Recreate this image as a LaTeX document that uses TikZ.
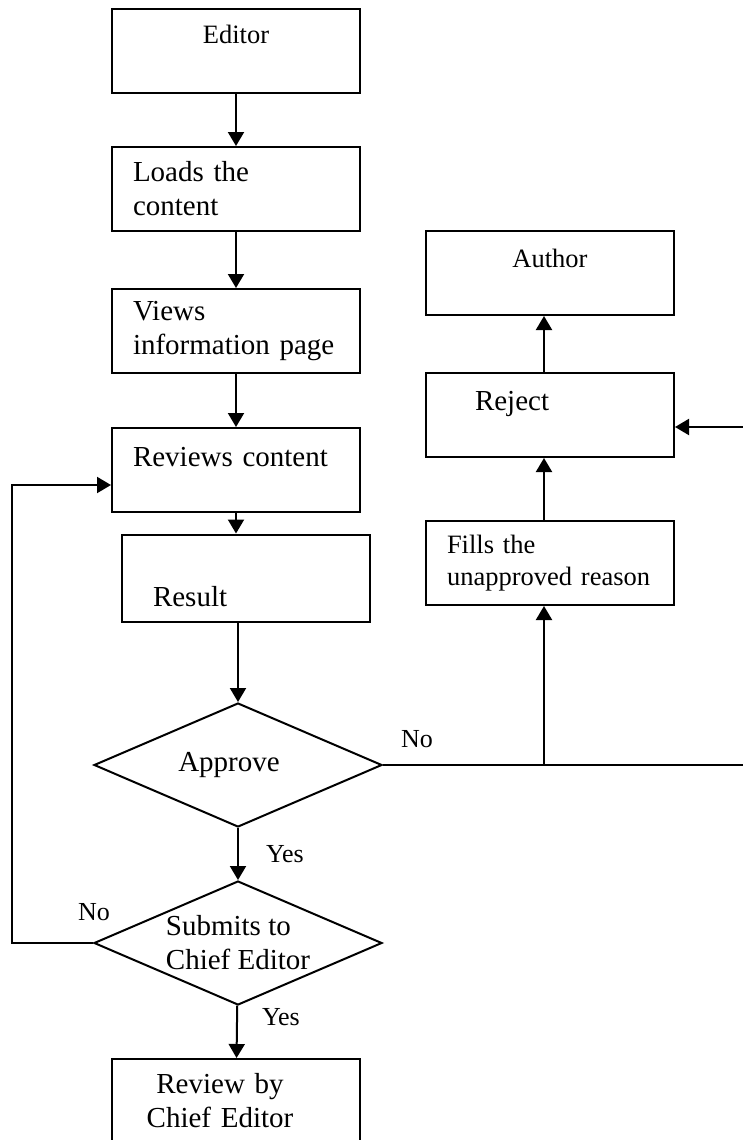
\documentclass[tikz,border=0pt]{standalone}
\usepackage{fontspec}
\setmainfont{Liberation Serif}
\usetikzlibrary{
  arrows.meta,
  shapes.geometric,
}
\tikzset{
  >={Triangle[length=7pt,width=8pt]},
  box/.style={draw, rectangle, minimum width=124pt, minimum height=42pt,
    text width=103pt, inner xsep=10.5pt, inner ysep=0pt, align=left,
    font=\fontsize{14.5}{17}\selectfont},
  smallbox/.style={box, font=\fontsize{13.25}{16}\selectfont},
  decision/.style={draw, diamond, aspect=2.3, minimum width=144pt,
    minimum height=62pt, inner sep=0pt, align=left,
    font=\fontsize{14.5}{17}\selectfont},
  lbl/.style={inner sep=0pt, font=\fontsize{13}{15}\selectfont},
}

\begin{document}
\begin{tikzpicture}[x=0.5pt, y=-0.5pt, line width=1pt]

        \useasboundingbox (0,0) rectangle (743,1140);

        % editor side
        \node [smallbox, align=center, text height=0pt, text depth=8pt]
              (editor) at (236,51) {Editor};
        \node [box] (loads) at (236,189) {Loads the\\content};
        \node [box] (views) at (236,331) {Views\\information page};
        \node [box, text height=0pt, text depth=4pt]
              (reviews) at (236,470) {Reviews content};
        \node [box, minimum height=43.5pt, text height=28pt, text depth=0pt]
              (result) at (246,578) {\hspace*{5pt}Result};
        \node [decision] (approve) at (238,765) {Approve\hspace*{9pt}};
        \node [decision] (submits) at (238,943) {Submits to\\Chief Editor};
        \node [box, align=center] (review) at (236,1101)
              {Review by\rule{16pt}{0pt}\\Chief Editor\rule{16pt}{0pt}};

        % author side
        \node [smallbox, align=center, text height=0pt, text depth=6pt]
              (author) at (550,273) {Author};
        \node [box, text height=0pt, text depth=5pt]
              (reject) at (550,415) {\hspace*{14pt}Reject};
        \node [smallbox] (fills) at (550,563) {Fills the\\unapproved reason};

        \coordinate (fork) at (544,765);
        \coordinate (rightline) at (752,600);

        \draw [->] (editor) -- (loads);
        \draw [->] (loads) -- (views);
        \draw [->] (views) -- (reviews);
        \draw [->] (reviews.south) -- (reviews.south |- result.north);
        \draw [->] (approve.north |- result.south) -- (approve.north);
        \draw [->] (approve) -- (submits);
        \draw [->] (submits) -- (review);
        \draw [->] (submits.west) -- ++(-81,0) |- ([yshift=-7.5pt]reviews.west);

        \draw [->] (approve.east) -| (rightline) |- ([yshift=-6pt]reject.east);
        \draw [->] (fork) -- (fork |- fills.south);
        \draw [->] (fork |- fills.north) -- (fork |- reject.south);
        \draw [->] (fork |- reject.north) -- (fork |- author.south);

        \node [lbl, anchor=base west] (noapprove) at (400,747) {No};
        \node [lbl, anchor=base west] (yesapprove) at (265,862) {Yes};
        \node [lbl, anchor=base west] (nosubmits) at (77,920) {No};
        \node [lbl, anchor=base west] (yessubmits) at (261,1025) {Yes};

\end{tikzpicture}
\end{document}
